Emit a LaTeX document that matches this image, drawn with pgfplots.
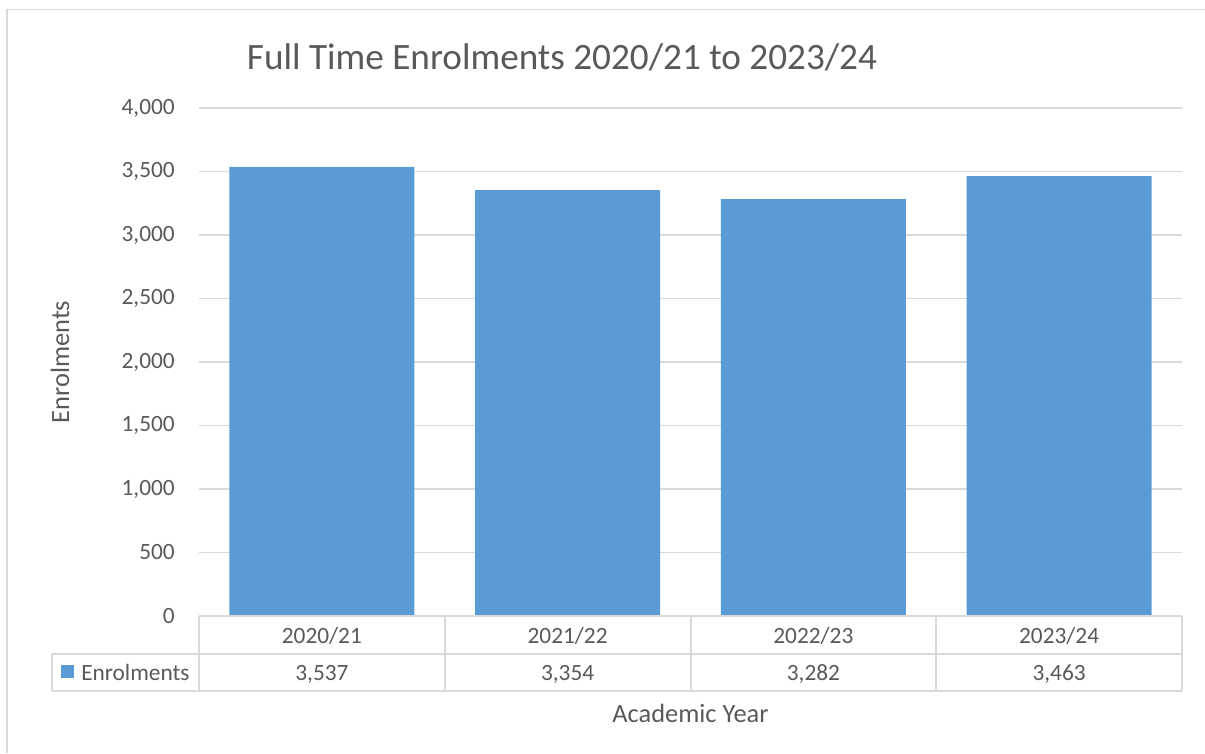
\documentclass[border=0pt]{standalone}
\usepackage{pgfplots}
\pgfplotsset{compat=1.18}
\usepackage{fontspec}
\setmainfont{Carlito}
\definecolor{barblue}{HTML}{5B9BD5}
\definecolor{txt}{HTML}{595959}
\definecolor{gridc}{HTML}{D9D9D9}
\begin{document}
\begin{tikzpicture}
\begin{scope}[x=0.75pt,y=0.75pt]
\useasboundingbox (0,0) rectangle (1205,753);
\draw[gridc, line width=1.1pt] (7,0) -- (7,743.5) -- (1205,743.5);
\end{scope}
\begin{axis}[
  at={(149.25pt,102.75pt)}, anchor=south west,
  scale only axis, width=737.25pt, height=381pt,
  xmin=-0.5, xmax=3.5, ymin=0, ymax=4000,
  ytick={0,500,...,4000},
  xtick=data, xticklabels={2020/21,2021/22,2022/23,2023/24},
  axis line style={draw=none}, tick style={draw=none}, major tick length=0pt,
  ymajorgrids, major grid style={gridc, line width=1.1pt},
  /pgf/number format/.cd, 1000 sep={,}, assume math mode=true, /pgfplots/.cd,
  ticklabel style={font=\fontsize{17.5pt}{20pt}\selectfont, text=txt},
  yticklabel style={anchor=east, inner sep=0pt, xshift=-18pt},
  xticklabel style={anchor=base, inner sep=0pt, yshift=-20.25pt},
  ybar, bar width=138.75pt, bar shift=0pt,
  clip=false,
]
\addplot[fill=barblue, draw=none] coordinates {(0,3537) (1,3354) (2,3282) (3,3463)};
\end{axis}
\begin{scope}[x=0.75pt,y=0.75pt]
% data table lines
\draw[gridc, line width=1.1pt] (199,137) -- (1182,137);
\draw[gridc, line width=1.1pt] (52,99) -- (1182,99);
\draw[gridc, line width=1.1pt] (52,62) -- (1182,62);
\foreach \xx in {199,445,691,936,1182} {\draw[gridc, line width=1.1pt] (\xx,137) -- (\xx,62);}
\draw[gridc, line width=1.1pt] (52,99) -- (52,62);
\fill[barblue] (61,75) rectangle (74,88);
\tikzset{tf/.style={text=txt, font=\fontsize{17.5pt}{20pt}\selectfont, inner sep=0pt}}
\node[tf, anchor=base west] at (81,73) {Enrolments};
\node[tf, anchor=base] at (321.9,73) {3,537};
\node[tf, anchor=base] at (567.6,73) {3,354};
\node[tf, anchor=base] at (813.4,73) {3,282};
\node[tf, anchor=base] at (1059.1,73) {3,463};
% titles
\node[text=txt, font=\fontsize{27.9pt}{33pt}\selectfont, inner sep=0pt, anchor=base] at (562,683) {Full Time Enrolments 2020/21 to 2023/24};
\node[text=txt, font=\fontsize{19.8pt}{24pt}\selectfont, inner sep=0pt, anchor=base] at (690.5,31) {Academic Year};
\node[text=txt, font=\fontsize{19.8pt}{24pt}\selectfont, inner sep=0pt, rotate=90] at (60,391) {Enrolments};
\end{scope}
\end{tikzpicture}
\end{document}
